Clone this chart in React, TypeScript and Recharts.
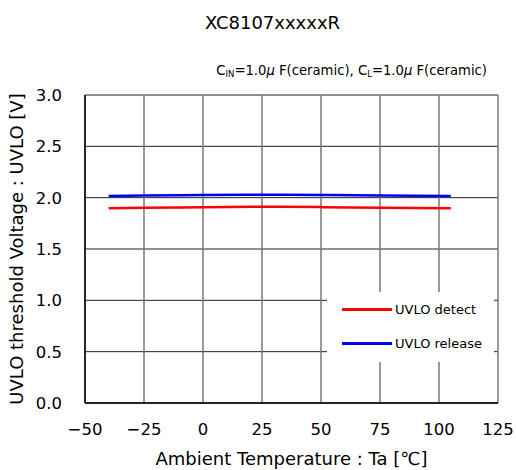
import React from 'react';
import { LineChart, Line, XAxis, YAxis, CartesianGrid, Label } from 'recharts';

const temps = [-40, -25, 0, 25, 50, 75, 105];
const detect = [1.896, 1.902, 1.907, 1.911, 1.908, 1.902, 1.896];
const release = [2.016, 2.021, 2.026, 2.029, 2.027, 2.022, 2.017];
const xTicks = [-50, -25, 0, 25, 50, 75, 100, 125];
const yTicks = [0, 0.5, 1.0, 1.5, 2.0, 2.5, 3.0];
const seriesNames = ['UVLO detect', 'UVLO release'];
const seriesColors = ['#ff0000', '#0000ff'];

const data = temps.map((t, i) => ({ t, detect: detect[i], release: release[i] }));

const FONT = '"DejaVu Sans", sans-serif';

export default function App() {
  return (
    <div style={{ position: 'absolute', left: 0, top: 0, width: 516, height: 470, background: 'white' }}>
      <div style={{ position: 'absolute', left: 0, width: 545, top: 12, textAlign: 'center', fontFamily: FONT, fontSize: 18 }}>XC8107xxxxxR</div>
      <div style={{ position: 'absolute', right: 29, top: 63, fontFamily: FONT, fontSize: 13.2, whiteSpace: 'nowrap' }}>
        C<sub style={{ fontSize: 8.5, verticalAlign: -2 }}>IN</sub>=1.0<i>μ</i> F(ceramic), C<sub style={{ fontSize: 8.5, verticalAlign: -2 }}>L</sub>=1.0<i>μ</i> F(ceramic)
      </div>
      <div style={{ position: 'absolute', left: 0, top: 0 }}>
        <LineChart width={516} height={470} data={data} margin={{ top: 95, left: 0, right: 18, bottom: 0 }}>
          <CartesianGrid horizontal={true} vertical={false} stroke="#222" strokeWidth={1} />
          <CartesianGrid horizontal={false} vertical={true} stroke="#777" strokeWidth={1.5} />
          <XAxis
            dataKey="t"
            type="number"
            domain={[-50, 125]}
            ticks={xTicks}
            interval={0}
            tickSize={0}
            tickMargin={20}
            axisLine={{ stroke: '#000', strokeWidth: 1.5 }}
            tickLine={false}
            tick={{ fill: '#000', fontSize: 16.5, fontFamily: FONT }}
            tickFormatter={(v: number) => String(v).replace('-', '−')}
            height={67}
          >
            <Label value="Ambient Temperature : Ta [℃]" position="insideBottom" offset={5} style={{ fill: '#000', fontSize: 18, fontFamily: FONT }} />
          </XAxis>
          <YAxis
            type="number"
            domain={[0, 3]}
            ticks={yTicks}
            interval={0}
            tickSize={0}
            tickMargin={23}
            axisLine={{ stroke: '#000', strokeWidth: 1.5 }}
            tickLine={false}
            tick={{ fill: '#000', fontSize: 16.5, fontFamily: FONT }}
            tickFormatter={(v: number) => v.toFixed(1)}
            width={85}
          >
            <Label value="UVLO threshold Voltage : UVLO [V]" angle={-90} position="insideLeft" offset={17} style={{ fill: '#000', fontSize: 18, fontFamily: FONT, textAnchor: 'middle' }} />
          </YAxis>
          <Line dataKey="detect" name={seriesNames[0]} stroke={seriesColors[0]} strokeWidth={2.5} dot={false} type="monotone" isAnimationActive={false} />
          <Line dataKey="release" name={seriesNames[1]} stroke={seriesColors[1]} strokeWidth={2.5} dot={false} type="monotone" isAnimationActive={false} />
        </LineChart>
      </div>
      <div style={{ position: 'absolute', left: 327, top: 292, width: 167, height: 70, background: 'white', fontFamily: FONT, fontSize: 13 }}>
        {seriesNames.map((n, i) => (
          <div key={n} style={{ position: 'absolute', left: 15, top: 9 + i * 34, display: 'flex', alignItems: 'center', height: 16 }}>
            <div style={{ width: 50, height: 3, background: seriesColors[i] }} />
            <span style={{ marginLeft: 3 }}>{n}</span>
          </div>
        ))}
      </div>
    </div>
  );
}
